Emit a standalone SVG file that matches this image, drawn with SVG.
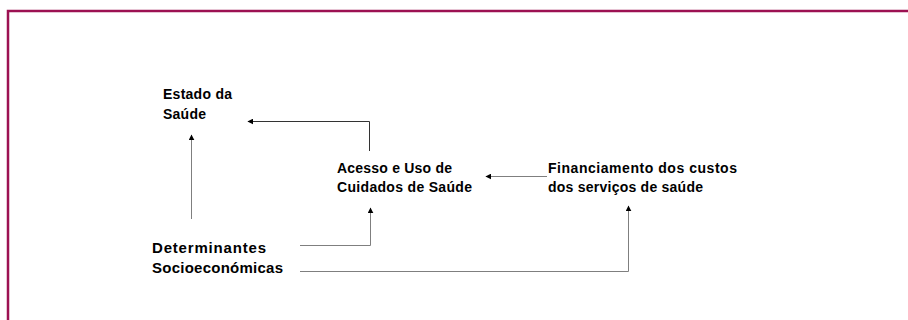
<svg xmlns="http://www.w3.org/2000/svg" width="908" height="320" viewBox="0 0 908 320">
<defs>
<style>
.t{font-family:"Liberation Sans",Arial,sans-serif;font-weight:bold;font-size:14px;fill:#000}
.d{font-size:15px}
.c{fill:none;stroke:#7f7f7f;stroke-width:1}
</style>
<marker id="ah" viewBox="0 0 10 10" refX="9" refY="5" markerWidth="6" markerHeight="6" orient="auto" markerUnits="userSpaceOnUse">
<path d="M0,0 L10,5 L0,10 z" fill="#000"/>
</marker>
</defs>
<rect x="8" y="11" width="920" height="330" fill="none" stroke="#9c1152" stroke-width="2.5"/>
<g id="estado">
<text class="t" x="163" y="98.5" textLength="69" lengthAdjust="spacing">Estado da</text>
<text class="t" x="163" y="119" textLength="43" lengthAdjust="spacing">Saúde</text>
</g>
<g id="acesso">
<text class="t" x="337" y="173" textLength="115" lengthAdjust="spacing">Acesso e Uso de</text>
<text class="t" x="337" y="192" textLength="135" lengthAdjust="spacing">Cuidados de Saúde</text>
</g>
<g id="financiamento">
<text class="t" x="548" y="173" textLength="189" lengthAdjust="spacing">Financiamento dos custos</text>
<text class="t" x="548" y="192" textLength="155" lengthAdjust="spacing">dos serviços de saúde</text>
</g>
<g id="determinantes">
<text class="t d" x="152" y="253" textLength="114" lengthAdjust="spacing">Determinantes</text>
<text class="t d" x="152" y="273" textLength="131" lengthAdjust="spacing">Socioeconómicas</text>
</g>
<g id="connectors">
<polyline class="c" points="369.5,151 369.5,121.5 248,121.5" marker-end="url(#ah)" style="stroke:#333"/>
<line class="c" x1="191.5" y1="219" x2="191.5" y2="135" marker-end="url(#ah)"/>
<polyline class="c" points="300,245.5 370.5,245.5 370.5,208" marker-end="url(#ah)"/>
<polyline class="c" points="300,271.5 628.5,271.5 628.5,206" marker-end="url(#ah)"/>
<line class="c" x1="547" y1="176.5" x2="486" y2="176.5" marker-end="url(#ah)"/>
</g>
</svg>
